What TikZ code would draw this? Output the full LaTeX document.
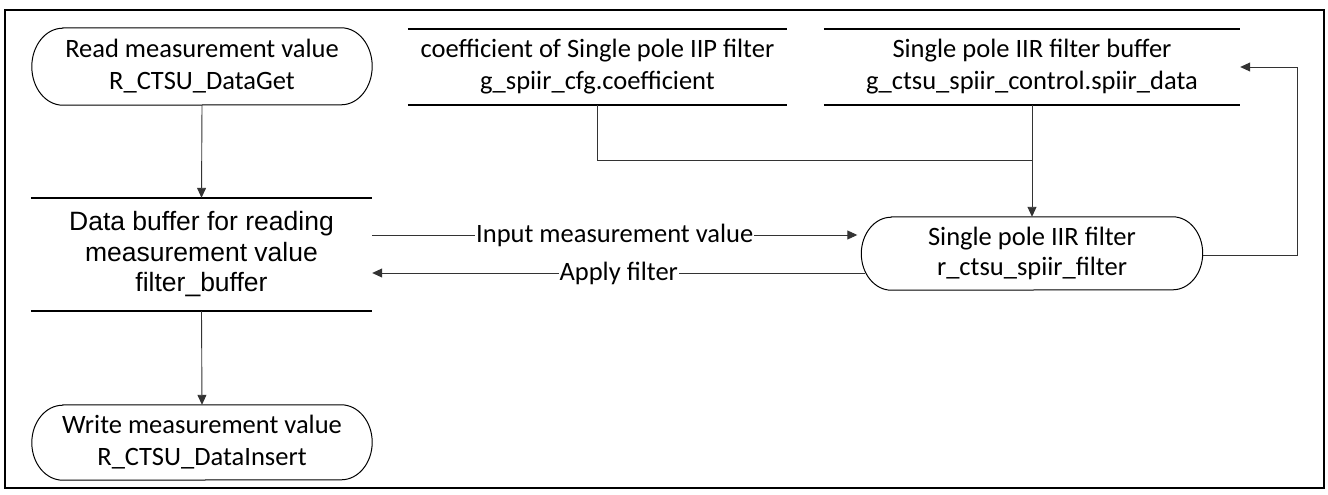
\documentclass[tikz,border=0pt]{standalone}
\usepackage{fontspec}
\setmainfont{Carlito}
\newfontfamily\arialf{Liberation Sans}
\usetikzlibrary{arrows.meta,calc}
\newcommand\drawterm[3]{%
  \draw[termline] ([xshift=#2]#1.north west) -- ([xshift=-#2]#1.north east)
    arc[start angle=90,end angle=-90,x radius=#2,y radius=#3]
    -- ([xshift=#2]#1.south west)
    arc[start angle=-90,end angle=-270,x radius=#2,y radius=#3] -- cycle;}
\newcommand\drawstore[1]{%
  \draw[storeline] (#1.north west) -- (#1.north east) (#1.south west) -- (#1.south east);}
\begin{document}
\begin{tikzpicture}[x=1pt,y=-1pt,
  conn/.style={draw=black!80, line width=0.9pt},
  arr/.style={conn,-{Triangle[length=10pt,width=9pt]}},
  termline/.style={draw=black, line width=1pt},
  storeline/.style={draw=black, line width=1.5pt},
  txt/.style={font=\fontsize{26.5}{32}\selectfont, align=center, inner sep=0pt},
  lbl/.style={font=\fontsize{26.5}{30}\selectfont, fill=white, inner sep=1pt}
]
\useasboundingbox (0,0) rectangle (1328,495);
\draw[line width=1.6pt] (5,10) rectangle (1324,488);

\node[txt, minimum width=340pt, minimum height=77pt] (read) at (202,66.5) {Read measurement value\\R\_CTSU\_DataGet};
\drawterm{read}{31pt}{38.5pt}

\node[txt, minimum width=379pt, minimum height=76pt] (coef) at (597.5,67) {coefficient of Single pole IIP filter\\g\_spiir\_cfg.coefficient};
\drawstore{coef}

\node[txt, minimum width=416pt, minimum height=76pt] (buf) at (1032,67) {Single pole IIR filter buffer\\g\_ctsu\_spiir\_control.spiir\_data};
\drawstore{buf}

\node[txt, font=\arialf\fontsize{26.5}{30.5}\selectfont, minimum width=341pt, minimum height=113pt] (dbuf) at (201.5,254.5) {Data buffer for reading\\measurement value\\filter\_buffer};
\drawstore{dbuf}

\node[txt, font=\fontsize{26.5}{30}\selectfont, minimum width=341pt, minimum height=73pt] (filter) at (1032,253.5) {Single pole IIR filter\\r\_ctsu\_spiir\_filter};
\drawterm{filter}{30pt}{36.5pt}

\node[txt, minimum width=340pt, minimum height=75pt] (write) at (202,442.5) {Write measurement value\\R\_CTSU\_DataInsert};
\drawterm{write}{31pt}{37.5pt}

% connectors
\draw[arr] (read.south) -- (dbuf.north);
\draw[arr] (dbuf.south) -- (write.north);
\coordinate (jy) at (0,160);
\coordinate (j) at (buf.south |- jy);
\draw[conn] (coef.south) |- (j);
\draw[arr] (buf.south) -- (buf.south |- filter.north);
\coordinate (fb) at (1297,255);
\draw[arr] (filter.east |- fb) -- (fb) |- (buf.east);
\coordinate (iny) at (0,235);
\coordinate (apy) at (0,273);
\draw[arr] (dbuf.east |- iny) -- node[lbl] {Input measurement value} ([xshift=-4pt]filter.west |- iny);
\draw[arr] ([xshift=4pt]filter.west |- apy) -- node[lbl] {Apply filter} (dbuf.east |- apy);
\end{tikzpicture}
\end{document}
